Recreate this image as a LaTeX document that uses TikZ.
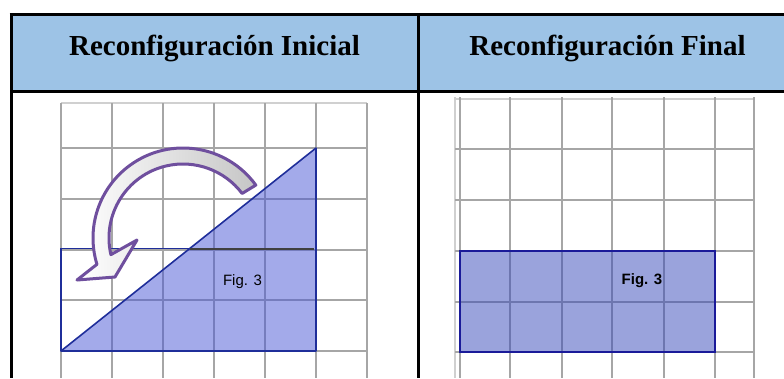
\documentclass[tikz,border=0pt]{standalone}
\usepackage{fontspec}
\setmainfont{Liberation Serif}
\newfontfamily\figfont{Liberation Sans}
\usetikzlibrary{calc}
\definecolor{hdrblue}{HTML}{9DC3E6}
\definecolor{gridgray}{HTML}{A6A6A6}
\definecolor{edgegray}{HTML}{D0D0D0}
\definecolor{trifill}{RGB}{71,85,213}
\definecolor{rectfill}{RGB}{53,71,185}
\definecolor{navy}{HTML}{1F2E9A}
\definecolor{navyb}{HTML}{1A1A99}
\definecolor{darkline}{HTML}{404040}
\definecolor{arrowpurple}{HTML}{6F4F9E}
\tikzset{
  border/.style={line width=3pt, black},
  gridline/.style={line width=1.6pt, gridgray},
  edgeline/.style={line width=1.2pt, edgegray},
  hdrtext/.style={font=\fontsize{29}{30}\selectfont\bfseries, anchor=base, inner sep=0pt},
  figlabel/.style={font=\figfont\fontsize{15}{16}\selectfont, anchor=base, inner sep=0pt},
  shapeline/.style={line width=1.6pt, navy},
}
\begin{document}
\begin{tikzpicture}[x=1pt,y=-1pt]
\useasboundingbox (0,0) rectangle (784,378);
% header
\fill[hdrblue] (11,14) rectangle (784,91.5);
\node[hdrtext] (h1) at (214.5,55) {Reconfiguración Inicial};
\node[hdrtext] (h2) at (607.5,55) {Reconfiguración Final};

% left grid
\draw[edgeline] (61,103) -- (367,103);
\foreach \x in {61,112,163,214,265,316,367}
  \draw[gridline] (\x,103) -- (\x,378);
\foreach \y in {148,199,250,300,351}
  \draw[gridline] (61,\y) -- (367,\y);

% triangle
\fill[trifill, fill opacity=0.5] (61,351) -- (316,148) -- (316,351) -- cycle;
\draw[shapeline, line join=round] (61,351) -- (316,148) -- (316,351) -- cycle;
\draw[shapeline] (61,351) -- (61,248.5) -- (190,248.5);
\draw[line width=2pt, darkline] (190,248.5) -- (314,248.5);
\node[figlabel] (f1) at (242.5,285) {Fig. 3};

% curved arrow
\coordinate (ac) at (183,238);
\shadedraw[left color=white, middle color=white, right color=gray!45,
  draw=arrowpurple, line width=3pt, line join=round]
  ($(ac)+(-36:90)$) arc[start angle=-36, end angle=-197, radius=90]
  -- (77,280) -- (115,277) -- (137,240)
  -- ($(ac)+(-193:74)$) arc[start angle=-193, end angle=-37, radius=74]
  -- cycle;

% right grid
\draw[edgeline] (455,99) -- (755,99);
\draw[edgeline] (455,97) -- (455,378);
\foreach \x in {460,510,562,612,664,715,754}
  \draw[gridline] (\x,97) -- (\x,378);
\foreach \y in {149,200,251,302,352}
  \draw[gridline] (455,\y) -- (755,\y);

% rectangle
\fill[rectfill, fill opacity=0.5] (460,251) rectangle (715,352);
\draw[line width=2.5pt, navyb] (460,251) rectangle (715,352);
\node[figlabel, font=\figfont\fontsize{15}{16}\selectfont\bfseries] (f2) at (642,284) {Fig. 3};

% table borders
\draw[border] (9.5,14) -- (784,14);
\draw[border] (11,14) -- (11,378);
\draw[border] (418.5,14) -- (418.5,378);
\draw[border] (11,91.5) -- (784,91.5);
\end{tikzpicture}
\end{document}
